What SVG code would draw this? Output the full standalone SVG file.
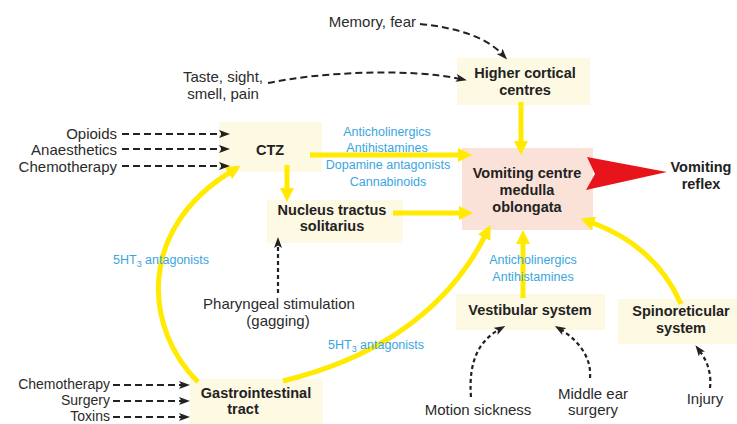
<svg xmlns="http://www.w3.org/2000/svg" width="737" height="424" viewBox="0 0 737 424">
<style>
  .box { fill: #fdf9e3; }
  .vc { fill: #fbe2d9; }
  .t { font-family: "Liberation Sans", Arial, sans-serif; font-size: 15px; fill: #2b2b2b; }
  .s { font-size: 14px; }
  .b { font-family: "Liberation Sans", Arial, sans-serif; font-size: 14.5px; font-weight: bold; fill: #222; }
  .blue { font-family: "Liberation Sans", Arial, sans-serif; font-size: 12.5px; fill: #3aa6e0; }
  .y { fill: none; stroke: #ffea00; stroke-width: 5; marker-end: url(#ya); }
  .d { fill: none; stroke: #222; stroke-width: 2; stroke-dasharray: 7 4; marker-end: url(#ba); }
  .dot { fill: none; stroke: #222; stroke-width: 2.2; stroke-dasharray: 4 3; marker-end: url(#ba); }
</style>
<defs>
  <marker id="ya" viewBox="0 0 14 14" refX="4" refY="7" markerWidth="14" markerHeight="14" markerUnits="userSpaceOnUse" orient="auto">
    <path d="M0,0 L14,7 L0,14 z" fill="#ffea00"/>
  </marker>
  <marker id="ba" viewBox="0 0 11 8" refX="5" refY="4" markerWidth="11" markerHeight="8" markerUnits="userSpaceOnUse" orient="auto">
    <path d="M0,0 L11,4 L0,8 L2.5,4 z" fill="#222"/>
  </marker>
</defs>
<rect width="737" height="424" fill="#ffffff"/>

<g id="higher-cortical">
  <rect class="box" x="457" y="58" width="133" height="47"/>
  <text class="b" x="525" y="78" text-anchor="middle">Higher cortical</text>
  <text class="b" x="525" y="95" text-anchor="middle">centres</text>
</g>
<g id="ctz">
  <rect class="box" x="219" y="122" width="103" height="50"/>
  <text class="b" x="270" y="155" text-anchor="middle">CTZ</text>
</g>
<g id="nucleus">
  <rect class="box" x="267" y="200" width="136" height="43"/>
  <text class="b" x="332" y="215" text-anchor="middle">Nucleus tractus</text>
  <text class="b" x="332" y="231" text-anchor="middle">solitarius</text>
</g>
<g id="vomiting-centre">
  <rect class="vc" x="462" y="148" width="131" height="82"/>
  <text class="b" x="527" y="178" text-anchor="middle">Vomiting centre</text>
  <text class="b" x="527" y="195" text-anchor="middle">medulla</text>
  <text class="b" x="527" y="212" text-anchor="middle">oblongata</text>
</g>
<g id="vomiting-reflex">
  <text class="b" x="701" y="172" text-anchor="middle">Vomiting</text>
  <text class="b" x="701" y="189" text-anchor="middle">reflex</text>
</g>
<g id="vestibular">
  <rect class="box" x="456" y="294" width="149" height="36"/>
  <text class="b" x="530" y="315" text-anchor="middle">Vestibular system</text>
</g>
<g id="spinoreticular">
  <rect class="box" x="618" y="299" width="119" height="45"/>
  <text class="b" x="681" y="316" text-anchor="middle">Spinoreticular</text>
  <text class="b" x="681" y="333" text-anchor="middle">system</text>
</g>
<g id="gi-tract">
  <rect class="box" x="190" y="379" width="133" height="45"/>
  <text class="b" x="256" y="398" text-anchor="middle">Gastrointestinal</text>
  <text class="b" x="243" y="414" text-anchor="middle">tract</text>
</g>
<g id="memory-fear">
  <text class="t" x="416" y="27" text-anchor="end">Memory, fear</text>
</g>
<g id="taste">
  <text class="t" x="223" y="82" text-anchor="middle">Taste, sight,</text>
  <text class="t" x="223" y="99" text-anchor="middle">smell, pain</text>
</g>
<g id="ctz-inputs">
  <text class="t" x="117" y="139" text-anchor="end">Opioids</text>
  <text class="t" x="117" y="155" text-anchor="end">Anaesthetics</text>
  <text class="t" x="117" y="172" text-anchor="end">Chemotherapy</text>
</g>
<g id="gi-inputs">
  <text class="t s" x="110" y="389" text-anchor="end">Chemotherapy</text>
  <text class="t s" x="110" y="405" text-anchor="end">Surgery</text>
  <text class="t s" x="110" y="421" text-anchor="end">Toxins</text>
</g>
<g id="pharyngeal">
  <text class="t" x="279" y="309" text-anchor="middle">Pharyngeal stimulation</text>
  <text class="t" x="278" y="326" text-anchor="middle">(gagging)</text>
</g>
<g id="motion-sickness">
  <text class="t" x="478" y="415" text-anchor="middle">Motion sickness</text>
</g>
<g id="middle-ear">
  <text class="t" x="593" y="399" text-anchor="middle">Middle ear</text>
  <text class="t" x="593" y="415" text-anchor="middle">surgery</text>
</g>
<g id="injury">
  <text class="t" x="705" y="404" text-anchor="middle">Injury</text>
</g>

<g id="connectors">
  <path class="y" d="M521,102 L521,145"/>
  <path class="y" d="M310,155 L462,155"/>
  <path class="y" d="M287,165 L287,192"/>
  <path class="y" d="M393,213 L463,213"/>
  <path class="y" d="M198,382 C145,330 135,230 232,171"/>
  <path class="y" d="M283,381 Q430,345 486,234"/>
  <path class="y" d="M523,298 L523,240"/>
  <path class="y" d="M681,304 Q655,245 590,222"/>
  <polygon points="587,157 667,172 586,190 595,174" fill="#e8141c"/>

  <path class="d" d="M420,24 Q480,30 503,55"/>
  <path class="d" d="M268,83 C320,72 410,68 461,79"/>
  <path class="d" d="M122,134 L224,134"/>
  <path class="d" d="M122,149 L224,149"/>
  <path class="d" d="M122,166 L224,166"/>
  <path class="d" d="M113,385 L184,385"/>
  <path class="d" d="M113,401 L184,401"/>
  <path class="d" d="M113,417 L184,417"/>
  <path class="dot" d="M278,293 L278,243"/>
  <path class="dot" d="M471,397 C468,360 480,340 500,329"/>
  <path class="dot" d="M590,378 C592,355 575,338 560,329"/>
  <path class="dot" d="M710,388 C712,370 705,358 699,350"/>

  <g id="labels">
    <text class="blue" x="387" y="136" text-anchor="middle">Anticholinergics</text>
    <text class="blue" x="387" y="152" text-anchor="middle">Antihistamines</text>
    <text class="blue" x="388" y="169" text-anchor="middle">Dopamine antagonists</text>
    <text class="blue" x="388" y="186" text-anchor="middle">Cannabinoids</text>
    <text class="blue" x="533" y="264" text-anchor="middle">Anticholinergics</text>
    <text class="blue" x="533" y="281" text-anchor="middle">Antihistamines</text>
    <text class="blue" x="113" y="264">5HT<tspan font-size="9" dy="3">3</tspan><tspan dy="-3"> antagonists</tspan></text>
    <text class="blue" x="328" y="349">5HT<tspan font-size="9" dy="3">3</tspan><tspan dy="-3"> antagonists</tspan></text>
  </g>
</g>
</svg>
